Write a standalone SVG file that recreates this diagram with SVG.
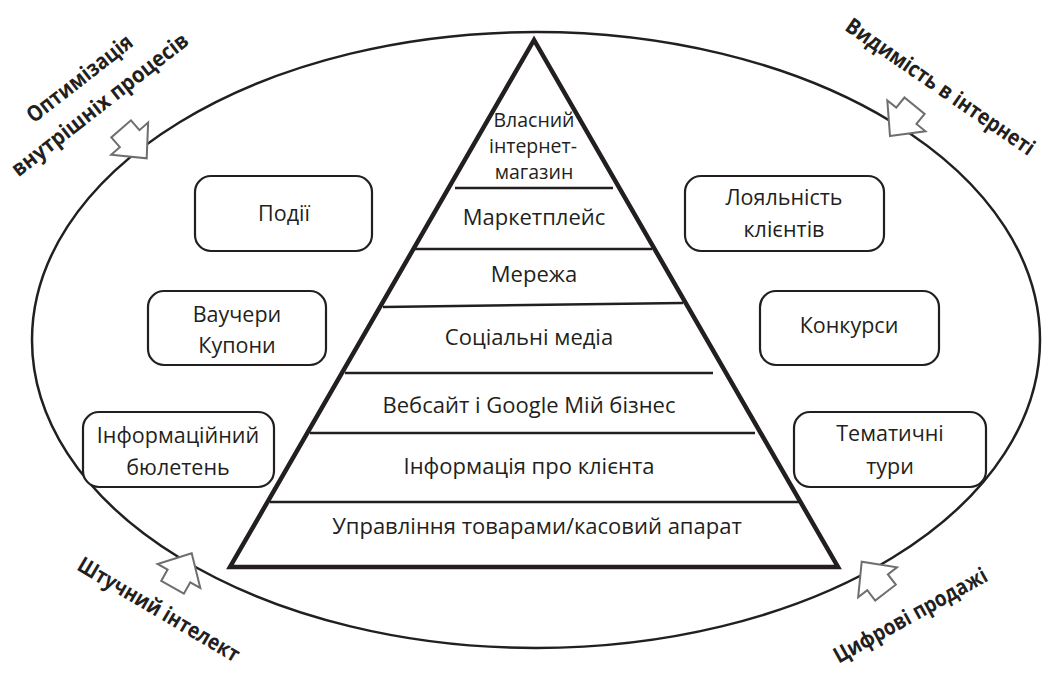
<svg xmlns="http://www.w3.org/2000/svg" width="1043" height="677" viewBox="0 0 1043 677">
<style>
.t{font-family:"Open Sans","Noto Sans",sans-serif;font-size:22px;fill:#231f20;text-anchor:middle}
.s{font-size:19.5px}
.b{font-family:"Open Sans","Noto Sans",sans-serif;font-size:21.5px;fill:#231f20;text-anchor:middle}
.lbl{font-family:"Open Sans","Noto Sans",sans-serif;font-size:22px;font-weight:700;fill:#231f20;text-anchor:middle}
.box{fill:#fff;stroke:#231f20;stroke-width:2.2}
.div{stroke:#231f20;stroke-width:2.5;fill:none}
.arr{fill:#fff;stroke:#6e6e6e;stroke-width:2;stroke-linejoin:miter}
</style>
<defs>
<polygon id="arrow" points="0,0 -26,-24.5 -26,-13 -39,-13 -39,13 -26,13 -26,24.5"/>
</defs>
<rect width="1043" height="677" fill="#fff"/>
<g id="frame">
<ellipse cx="536" cy="340" rx="504" ry="308" fill="none" stroke="#231f20" stroke-width="2.5"/>
</g>
<g id="connectors">
<use href="#arrow" class="arr" transform="translate(146.7,158.3) rotate(49)"/>
<use href="#arrow" class="arr" transform="translate(890,136) rotate(129)"/>
<use href="#arrow" class="arr" transform="translate(191.7,553.3) rotate(-60.6)"/>
<use href="#arrow" class="arr" transform="translate(861.7,561.7) rotate(-127.6)"/>
</g>
<g id="pyramid">
<polygon points="534,40 230,567 838,567" fill="#fff" stroke="#231f20" stroke-width="4.5" stroke-linejoin="miter"/>
<line class="div" x1="455" y1="188" x2="613" y2="188"/>
<line class="div" x1="415" y1="249" x2="652" y2="249"/>
<line class="div" x1="383" y1="307" x2="683" y2="303"/>
<line class="div" x1="345" y1="373" x2="713" y2="373"/>
<line class="div" x1="310" y1="433" x2="755" y2="433"/>
<line class="div" x1="270" y1="502" x2="800" y2="502"/>
<text class="t s" x="534" y="127">Власний</text>
<text class="t s" x="533" y="153">інтернет-</text>
<text class="t s" x="534" y="179">магазин</text>
<text class="t" x="534" y="225">Маркетплейс</text>
<text class="t" x="534" y="282">Мережа</text>
<text class="t" x="529" y="345">Соціальні медіа</text>
<text class="t" x="529" y="413">Вебсайт і Google Мій бізнес</text>
<text class="t" x="529" y="474">Інформація про клієнта</text>
<text class="t" x="537" y="534">Управління товарами/касовий апарат</text>
</g>
<g id="node-podii">
<rect class="box" x="195" y="176" width="177" height="75" rx="16"/>
<text class="b" x="284" y="221">Події</text>
</g>
<g id="node-vouchers">
<rect class="box" x="148" y="291" width="178" height="74" rx="16"/>
<text class="b" x="237" y="322">Ваучери</text>
<text class="b" x="237" y="353">Купони</text>
</g>
<g id="node-newsletter">
<rect class="box" x="83" y="412" width="191" height="75" rx="16"/>
<text class="b" x="178" y="443">Інформаційний</text>
<text class="b" x="178" y="475">бюлетень</text>
</g>
<g id="node-loyalty">
<rect class="box" x="685" y="176" width="199" height="75" rx="16"/>
<text class="b" x="784" y="205">Лояльність</text>
<text class="b" x="784" y="237">клієнтів</text>
</g>
<g id="node-contests">
<rect class="box" x="760" y="291" width="179" height="74" rx="16"/>
<text class="b" x="849" y="333">Конкурси</text>
</g>
<g id="node-tours">
<rect class="box" x="794" y="412" width="192" height="75" rx="16"/>
<text class="b" x="890" y="441">Тематичні</text>
<text class="b" x="890" y="474">тури</text>
</g>
<g id="label-optimization" transform="translate(94,97) rotate(-38)">
<text class="lbl" x="0" y="-16" textLength="128" lengthAdjust="spacingAndGlyphs">Оптимізація</text>
<text class="lbl" x="0" y="17" textLength="218" lengthAdjust="spacingAndGlyphs">внутрішніх процесів</text>
</g>
<g id="label-visibility" transform="translate(936,93) rotate(34.5)">
<text class="lbl" x="0" y="0" textLength="224" lengthAdjust="spacingAndGlyphs">Видимість в інтернеті</text>
</g>
<g id="label-ai" transform="translate(155,616) rotate(30.5)">
<text class="lbl" x="0" y="0" textLength="184" lengthAdjust="spacingAndGlyphs">Штучний інтелект</text>
</g>
<g id="label-sales" transform="translate(914,622) rotate(-29)">
<text class="lbl" x="0" y="0" textLength="172" lengthAdjust="spacingAndGlyphs">Цифрові продажі</text>
</g>
</svg>
